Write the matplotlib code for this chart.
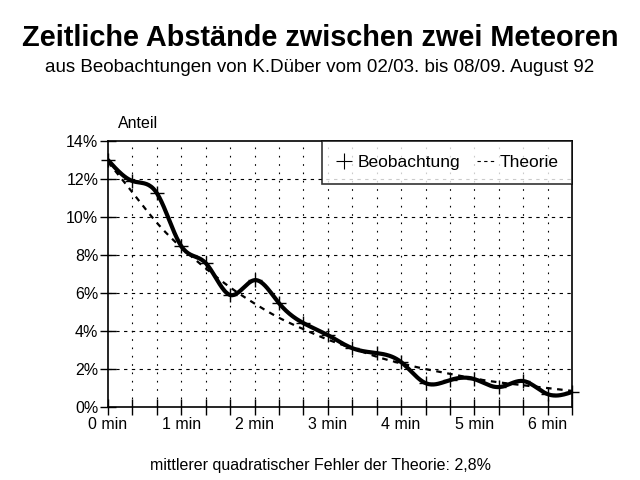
import numpy as np
import matplotlib
matplotlib.use("Agg")
import matplotlib.pyplot as plt
from matplotlib.lines import Line2D

# data: intervals of 20 s (index 0..19)
steps = list(range(20))
beobachtung = [13.0, 11.9, 11.26, 8.47, 7.58, 5.9, 6.68, 5.47, 4.42, 3.79,
               3.1, 2.84, 2.37, 1.26, 1.42, 1.47, 1.05, 1.37, 0.68, 0.79]
theorie = [12.9, 11.3, 9.7, 8.4, 7.3, 6.3, 5.45, 4.7, 4.1, 3.55,
           3.1, 2.65, 2.3, 2.0, 1.75, 1.5, 1.3, 1.15, 1.0, 0.85]
xtick_pos = [0, 3, 6, 9, 12, 15, 18]
xtick_labels = ["0 min", "1 min", "2 min", "3 min", "4 min", "5 min", "6 min"]
ytick_pos = [0, 2, 4, 6, 8, 10, 12, 14]
ytick_labels = ["0%", "2%", "4%", "6%", "8%", "10%", "12%", "14%"]


def natural_spline(x, y, n=400):
    x = np.asarray(x, float); y = np.asarray(y, float)
    N = len(x); h = np.diff(x)
    A = np.zeros((N, N)); b = np.zeros(N)
    A[0, 0] = A[-1, -1] = 1
    for i in range(1, N - 1):
        A[i, i - 1] = h[i - 1]; A[i, i] = 2 * (h[i - 1] + h[i]); A[i, i + 1] = h[i]
        b[i] = 3 * ((y[i + 1] - y[i]) / h[i] - (y[i] - y[i - 1]) / h[i - 1])
    c = np.linalg.solve(A, b)
    xs = np.linspace(x[0], x[-1], n)
    idx = np.clip(np.searchsorted(x, xs) - 1, 0, N - 2)
    dx = xs - x[idx]
    bb = (y[idx + 1] - y[idx]) / h[idx] - h[idx] * (2 * c[idx] + c[idx + 1]) / 3
    d = (c[idx + 1] - c[idx]) / (3 * h[idx])
    return xs, y[idx] + bb * dx + c[idx] * dx ** 2 + d * dx ** 3


plt.rcParams['font.family'] = ['Liberation Sans', 'DejaVu Sans']
fig = plt.figure(figsize=(6.4, 4.8), dpi=100)
ax = fig.add_axes([0.1688, 0.152, 0.725, 0.554])

xs, ys = natural_spline(steps, beobachtung)
ax.plot(xs, ys, color='black', lw=3, solid_capstyle='round', zorder=3)
ax.plot(steps, beobachtung, ls='none', marker='+', ms=10, mew=1, color='black', zorder=4,
        clip_on=False)
xt, yt = natural_spline(steps, theorie)
ax.plot(xt, yt, color='black', lw=1.6, ls=(0, (2.5, 2.5)), zorder=3)

ax.set_xlim(0, 19)
ax.set_ylim(0, 14)
ax.set_xticks(steps)
ax.set_xticklabels([xtick_labels[xtick_pos.index(s)] if s in xtick_pos else "" for s in steps])
ax.set_yticks(ytick_pos)
ax.set_yticklabels(ytick_labels)
ax.tick_params(direction='inout', length=12, width=1, labelsize=11.5, colors='black', pad=1)
for s in ['left', 'bottom', 'top', 'right']:
    ax.spines[s].set_linewidth(1.2)

for s in steps[1:-1]:
    ax.axvline(s, color='black', lw=0.8, ls=(0, (1.5, 6)), zorder=1)
for v in ytick_pos[1:-1]:
    ax.axhline(v, color='black', lw=0.8, ls=(0, (3, 4)), zorder=1)

handles = [Line2D([], [], ls='none', marker='+', ms=12, mew=0.8, color='black'),
           Line2D([], [], ls=(0, (3, 3)), lw=0.8, color='black')]
leg = ax.legend(handles, ["Beobachtung", "Theorie"], loc='upper right', ncol=2,
                fontsize=12.5, frameon=True, fancybox=False, edgecolor='black',
                handlelength=1.0, handletextpad=0.25, columnspacing=1.0,
                borderaxespad=0.0, bbox_to_anchor=(1.0, 1.0), borderpad=0.8)
leg.get_frame().set_linewidth(1.2)

fig.text(0.5, 0.921, "Zeitliche Abstände zwischen zwei Meteoren", ha='center', va='center',
         fontsize=20.8, fontweight='bold')
fig.text(0.5, 0.859, "aus Beobachtungen von K.Düber vom 02/03. bis 08/09. August 92",
         ha='center', va='center', fontsize=13.5)
fig.text(0.184, 0.743, "Anteil", ha='left', va='center', fontsize=11.5)
fig.text(0.5, 0.031, "mittlerer quadratischer Fehler der Theorie: 2,8%", ha='center',
         va='center', fontsize=11.5)

fig.savefig("out.png", dpi=100)
